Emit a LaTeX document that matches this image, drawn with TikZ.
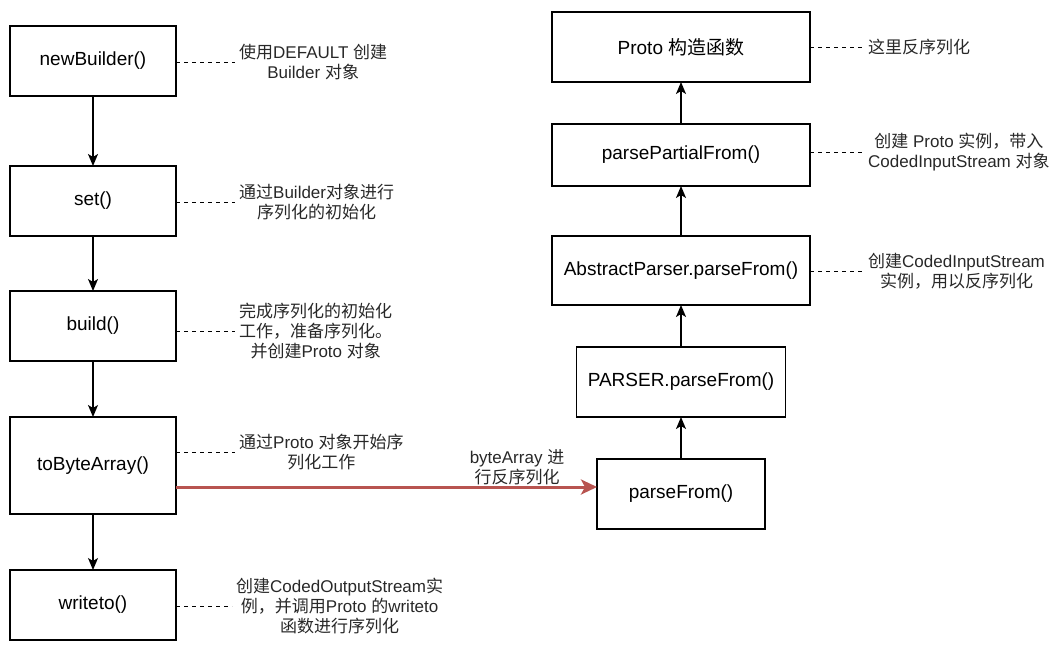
\documentclass[tikz,border=0pt]{standalone}
\usepackage{fontspec}
\setmainfont{Liberation Sans}
\newfontfamily\cjk{Noto Sans CJK SC}
\newcommand{\zh}[1]{{\cjk #1}}
\usepackage{tikz}
\usetikzlibrary{
  arrows.meta,
  positioning,
}
\tikzstyle{func} = [
  draw,
  rectangle,
  line width=1.2pt,
  outer sep=0pt,
  minimum width=166,
  minimum height=70,
  font=\fontsize{19}{22}\selectfont,
]
\tikzstyle{note} = [
  anchor=west,
  align=center,
  inner xsep=4pt,
  inner ysep=0pt,
  text=notegray,
  font=\fontsize{17}{20}\selectfont,
]
\tikzstyle{link} = [
  line width=1pt,
  dash pattern=on 4pt off 4pt,
]
\tikzstyle{arrow} = [
  -{Stealth[length=12pt,width=10pt,inset=3pt]},
  line width=1.4pt,
]
\tikzstyle{redarrow} = [
  -{Stealth[length=16pt,width=15pt,inset=4pt]},
  line width=3pt,
  arrowred,
]
\definecolor{arrowred}{RGB}{184, 84, 80}
\definecolor{notegray}{RGB}{40, 40, 40}

\begin{document}
\begin{tikzpicture}[x=1pt,y=-1pt,node distance=56pt]
  \useasboundingbox (0,0) rectangle (1060,645);

  % serialization
  \node[func]    (newBuilder)  at (93,61)             {newBuilder()};
  \node[func]    (set)         [below=70pt of newBuilder] {set()};
  \node[func]    (build)       [below=55pt of set]   {build()};
  \node[func,minimum height=97]    (toByteArray) [below=of build]   {toByteArray()};
  \node[func]    (writeto)     [below=of toByteArray] {writeto()};

  % deserialization
  \node[func,minimum width=168]    (parseFrom)  at (681,494)   {parseFrom()};
  \node[func,minimum width=209]    (parserParseFrom)  [above=42pt of parseFrom]   {PARSER.parseFrom()};
  \node[func,minimum width=258,minimum height=69]    (abstractParseFrom) [above=42pt of parserParseFrom] {AbstractParser.parseFrom()};
  \node[func,minimum width=258,minimum height=62]    (parsePartialFrom)  [above=50pt of abstractParseFrom] {parsePartialFrom()};
  \node[func,minimum width=258]    (protoCtor)  [above=42pt of parsePartialFrom] {Proto \zh{构造函数}};

  % notes
  \node[note] (newBuilderNote)  at (235,62)  {\zh{使用}DEFAULT \zh{创建}\\Builder \zh{对象}};
  \node[note] (setNote)         at (235,202) {\zh{通过}Builder\zh{对象进行}\\\zh{序列化的初始化}};
  \node[note] (buildNote)       at (235,331) {\zh{完成序列化的初始化}\\\zh{工作，准备序列化。}\\\zh{并创建}Proto \zh{对象}};
  \node[note] (toByteArrayNote) at (235,452) {\zh{通过}Proto \zh{对象开始序}\\\zh{列化工作}};
  \node[note] (writetoNote)     at (232,606) {\zh{创建}CodedOutputStream\zh{实}\\\zh{例，并调用}Proto \zh{的}writeto\\\zh{函数进行序列化}};
  \node[note] (protoCtorNote)   at (864,47)  {\zh{这里反序列化}};
  \node[note] (parsePartialNote) at (864,152) {\zh{创建} Proto \zh{实例，带入}\\CodedInputStream \zh{对象}};
  \node[note] (abstractNote)    at (864,271) {\zh{创建}CodedInputStream\\\zh{实例，用以反序列化}};

  \draw[link] (newBuilder.east |- newBuilderNote.west) -- (newBuilderNote.west);
  \draw[link] (set.east |- setNote.west) -- (setNote.west);
  \draw[link] (build.east |- buildNote.west) -- (buildNote.west);
  \draw[link] (toByteArray.east |- toByteArrayNote.west) -- (toByteArrayNote.west);
  \draw[link] (writeto.east |- writetoNote.west) -- (writetoNote.west);
  \draw[link] (protoCtor.east |- protoCtorNote.west) -- (protoCtorNote.west);
  \draw[link] (parsePartialFrom.east |- parsePartialNote.west) -- (parsePartialNote.west);
  \draw[link] (abstractParseFrom.east |- abstractNote.west) -- (abstractNote.west);

  % flow
  \draw[arrow] (newBuilder) -- (set);
  \draw[arrow] (set) -- (build);
  \draw[arrow] (build) -- (toByteArray);
  \draw[arrow] (toByteArray) -- (writeto);
  \draw[arrow] (parseFrom) -- (parserParseFrom);
  \draw[arrow] (parserParseFrom) -- (abstractParseFrom);
  \draw[arrow] (abstractParseFrom) -- (parsePartialFrom);
  \draw[arrow] (parsePartialFrom) -- (protoCtor);

  \coordinate (byteArrayIn) at ([yshift=7pt]parseFrom.west);
  \draw[redarrow] (byteArrayIn -| toByteArray.east) -- (byteArrayIn)
    node[pos=0.81,anchor=south,align=center,inner sep=1pt,text=notegray,font=\fontsize{17}{20}\selectfont] {byteArray \zh{进}\\\zh{行反序列化}};
\end{tikzpicture}
\end{document}
